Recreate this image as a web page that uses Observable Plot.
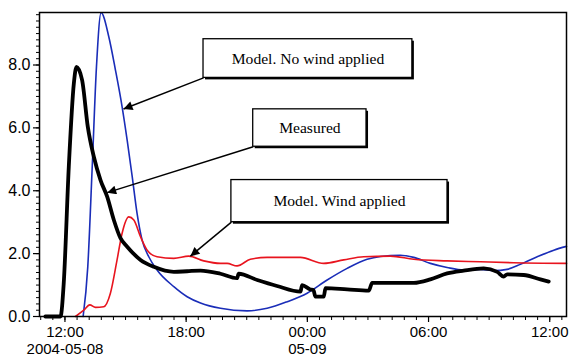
<!DOCTYPE html>
<html><head><meta charset="utf-8">
<script src="https://cdn.jsdelivr.net/npm/d3@7"></script>
<script src="https://cdn.jsdelivr.net/npm/@observablehq/plot@0.6"></script>
<style>body{margin:0;background:#fff}</style>
</head><body><div id="chart"></div>
<script>
// time expressed as hours after 2004-05-08 12:00
const baseTime = Date.UTC(2004, 4, 8, 12, 0);

const measuredHours = [-0.97,-0.22,-0.06,0.19,0.44,0.57,0.85,1.13,1.43,1.76,2.09,2.42,2.75,3.08,3.74,4.40,5.39,6.05,6.71,7.70,8.52,8.60,9.52,10.5,11.66,11.74,12.15,12.30,12.40,12.81,12.90,13.97,15.04,15.21,16.11,17.27,18.09,18.92,19.74,20.73,21.40,21.72,21.89,22.71,23.54,23.95];
const measuredValues = [0,0,1.06,4.76,7.41,7.94,7.52,6.04,5.08,4.34,3.81,3.07,2.49,2.22,1.80,1.58,1.42,1.44,1.46,1.36,1.22,1.36,1.16,0.97,0.79,1.0,0.86,0.84,0.63,0.63,0.90,0.86,0.82,1.07,1.07,1.07,1.18,1.37,1.46,1.53,1.42,1.27,1.34,1.32,1.18,1.11];

const noWindHours = [0.90,1.13,1.35,1.56,1.79,2.17,2.50,2.83,3.08,3.33,3.57,3.82,4.15,4.56,5.39,6.05,6.71,7.70,9.02,10.01,11.0,11.99,12.98,13.97,14.96,15.62,16.61,17.27,18.09,18.92,19.74,20.57,21.23,21.89,22.55,23.38,24.2,24.83];
const noWindValues = [0,1.58,4.76,7.94,9.66,8.90,7.84,6.67,5.61,4.45,3.28,2.43,1.90,1.48,0.95,0.63,0.43,0.26,0.18,0.26,0.47,0.74,1.16,1.53,1.82,1.91,1.95,1.88,1.69,1.56,1.48,1.50,1.46,1.50,1.66,1.90,2.11,2.23];

const windHours = [0.52,0.93,1.23,1.51,1.92,2.25,2.58,2.83,3.16,3.41,3.74,4.07,4.56,5.39,6.13,6.87,7.70,8.03,8.52,9.18,10.01,11.66,12.81,13.80,14.79,16.11,17.27,18.92,20.57,22.22,24.83];
const windValues = [0,0.20,0.37,0.29,0.31,0.74,1.80,2.65,3.17,3.07,2.54,2.11,1.90,1.85,1.92,1.77,1.69,1.69,1.61,1.82,1.88,1.88,1.69,1.80,1.90,1.92,1.82,1.77,1.74,1.71,1.69];

const yTicks = [0, 2, 4, 6, 8];
const xTickHours = [0, 6, 12, 18, 24];
const xTickLabels = ["12:00\n2004-05-08", "18:00", "00:00\n05-09", "06:00", "12:00"];

// annotation boxes (hours / values) and arrow tips
const annoLabels = ["Model. No wind applied", "Measured", "Model. Wind applied"];
const annoLeft = [6.86, 9.32, 8.24];
const annoRight = [17.2, 14.93, 18.94];
const annoBottom = [7.59, 5.40, 3.00];
const annoTop = [8.82, 6.59, 4.34];
const arrowTipHours = [2.90, 2.09, 6.21];
const arrowTipValues = [6.60, 3.94, 1.92];

const toDate = h => new Date(baseTime + h * 3600e3);
const series = (hs, vs) => hs.map((h, i) => ({t: toDate(h), v: vs[i]}));
const measured = series(measuredHours, measuredValues);
const noWind = series(noWindHours, noWindValues);
const wind = series(windHours, windValues);

const xMajor = xTickHours.map(toDate);
const labelMap = new Map(xMajor.map((d, i) => [+d, xTickLabels[i]]));
const xMinor = d3.range(-1.2, 24.9, 0.6).map(toDate);
const yMinor = d3.range(0, 9.7, 0.2);

const annot = annoLabels.map((label, i) => ({
  label,
  x1: toDate(annoLeft[i]), x2: toDate(annoRight[i]),
  y1: annoBottom[i], y2: annoTop[i],
  xm: toDate((annoLeft[i] + annoRight[i]) / 2), ym: (annoBottom[i] + annoTop[i]) / 2,
  tx: toDate(arrowTipHours[i]), ty: arrowTipValues[i]
}));

const chart = Plot.plot({
  width: 570, height: 356,
  marginLeft: 39, marginRight: 4, marginTop: 12, marginBottom: 40,
  x: {type: "utc", domain: [toDate(-1.26), toDate(24.83)]},
  y: {domain: [0, 9.67]},
  style: {fontFamily: "'Liberation Sans', Arial, sans-serif", fontSize: "15px", color: "#000", background: "#fff"},
  marks: [
    Plot.axisY({ticks: yMinor, tickSize: 3, tickFormat: () => "", label: null, strokeWidth: 1}),
    Plot.axisY({ticks: yTicks, tickSize: 6, tickPadding: 3, tickFormat: d3.format(".1f"), fontSize: 16, label: null, strokeWidth: 1.2}),
    Plot.axisX({ticks: xMinor, tickSize: 4, tickFormat: () => "", label: null, strokeWidth: 1}),
    Plot.axisX({ticks: xMajor, tickSize: 6, tickPadding: 3, tickFormat: d => labelMap.get(+d), lineHeight: 1.1, fontSize: 15, label: null, strokeWidth: 1.2}),
    Plot.line(noWind, {x: "t", y: "v", stroke: "#1a2db8", strokeWidth: 1.6, curve: "monotone-x"}),
    Plot.line(wind, {x: "t", y: "v", stroke: "#e8141e", strokeWidth: 1.6, curve: "monotone-x"}),
    Plot.line(measured, {x: "t", y: "v", stroke: "#000", strokeWidth: 3.8, strokeLinejoin: "round", curve: "monotone-x"}),
    Plot.frame({stroke: "#000", strokeWidth: 1.5}),
    Plot.link(annot, {x1: "x1", y1: "y1", x2: "tx", y2: "ty", stroke: "#000", strokeWidth: 1.5}),
    Plot.rect(annot, {x1: "x1", x2: "x2", y1: "y1", y2: "y2", fill: "#000", dx: 2, dy: 2}),
    Plot.rect(annot, {x1: "x1", x2: "x2", y1: "y1", y2: "y2", fill: "#fff", stroke: "#000", strokeWidth: 1.3}),
    Plot.text(annot, {x: "xm", y: "ym", text: "label", fontFamily: "'Liberation Serif', 'Times New Roman', serif", fontSize: 15.6, fill: "#000"})
  ]
});

// filled triangular arrowheads
const ns = "http://www.w3.org/2000/svg";
const defs = document.createElementNS(ns, "defs");
const marker = document.createElementNS(ns, "marker");
marker.setAttribute("id", "tri");
marker.setAttribute("viewBox", "0 0 10 10");
marker.setAttribute("refX", "10");
marker.setAttribute("refY", "5");
marker.setAttribute("markerWidth", "14");
marker.setAttribute("markerHeight", "9");
marker.setAttribute("markerUnits", "userSpaceOnUse");
marker.setAttribute("orient", "auto");
const tri = document.createElementNS(ns, "path");
tri.setAttribute("d", "M0,0L10,5L0,10z");
tri.setAttribute("fill", "#000");
marker.appendChild(tri);
defs.appendChild(marker);
chart.insertBefore(defs, chart.firstChild);
chart.querySelectorAll('g[aria-label="link"] path, g[aria-label="link"] line').forEach(p => p.setAttribute("marker-end", "url(#tri)"));

document.getElementById("chart").appendChild(chart);
</script>
</body></html>
